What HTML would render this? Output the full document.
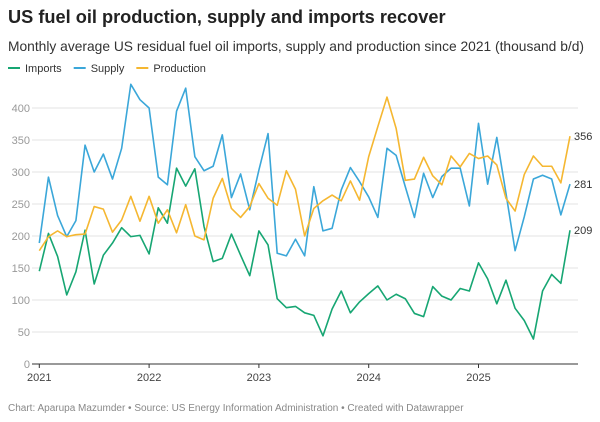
<!DOCTYPE html>
<html><head><meta charset="utf-8"><style>
body{margin:0;width:600px;height:422px;background:#fff;font-family:"Liberation Sans",sans-serif;overflow:hidden;position:relative}
.t{position:absolute;left:8px;top:7px;font-size:18.2px;font-weight:bold;color:#222}
.s{position:absolute;left:8px;top:39px;font-size:13.8px;color:#333;white-space:nowrap}
.f{position:absolute;left:8px;top:403px;font-size:10px;color:#888}
svg{position:absolute;left:0;top:0}
</style></head><body>
<div class="t">US fuel oil production, supply and imports recover</div>
<div class="s">Monthly average US residual fuel oil imports, supply and production since 2021 (thousand b/d)</div>
<svg id="c" width="600" height="422"></svg>
<div class="f">Chart: Aparupa Mazumder • Source: US Energy Information Administration • Created with Datawrapper</div>
<script>
const years=["2021","2022","2023","2024","2025"];
const yTicks=[0,50,100,150,200,250,300,350,400];
const imports=[145,204,168,108,144,209,125,170,189,213,199,201,172,244,220,306,278,305,215,160,165,203,170,138,208,186,102,88,90,80,76,44,86,114,80,97,110,122,100,109,102,79,74,121,106,100,118,114,158,133,94,131,87,68,39,114,140,126,209];
const supply=[189,292,232,199,224,342,300,328,289,337,437,413,400,292,280,395,431,324,302,309,358,260,297,241,303,360,173,169,195,169,277,208,212,272,307,285,261,229,337,326,277,229,298,260,293,306,306,247,376,281,354,267,177,230,289,295,289,233,281];
const production=[177,199,208,199,202,203,246,242,206,225,262,223,262,220,241,205,249,200,194,259,290,243,229,246,282,259,248,302,273,200,243,255,264,255,286,256,324,371,417,368,287,289,323,294,280,325,308,329,321,325,311,259,239,296,325,309,309,283,356];
const series=[["imports","Imports",imports,"#17a673"],["supply","Supply",supply,"#3ba7d9"],["production","Production",production,"#f5b731"]];
const NS="http://www.w3.org/2000/svg",svg=document.getElementById('c');
const x0=39.3,dx=9.15,y0=364,ky=0.64;
const X=i=>x0+dx*i, Y=v=>y0-v*ky;
function mk(t,a,p){const e=document.createElementNS(NS,t);for(const k in a)e.setAttribute(k,a[k]);(p||svg).appendChild(e);return e;}
yTicks.forEach(v=>{
 if(v>0){const g=mk('line',{x1:32,x2:578,y1:Y(v),y2:Y(v),stroke:'#e3e3e3','stroke-width':1});
 
 }
 const t=mk('text',{x:30,y:Y(v)+4,'text-anchor':'end','font-size':11,fill:'#999'});t.textContent=v;
 
 
});
const ax=mk('line',{x1:32,x2:578,y1:y0,y2:y0,stroke:'#333','stroke-width':1});


years.forEach((yr,k)=>{const x=X(k*12);
 mk('line',{x1:x,x2:x,y1:y0,y2:y0+4,stroke:'#333'});
 const t=mk('text',{x:x,y:y0+17,'text-anchor':'middle','font-size':11,fill:'#444'});t.textContent=yr;
 
 
});
let lx=8;
series.forEach(s=>{
 const p=mk('polyline',{points:s[2].map((v,i)=>X(i)+','+Y(v)).join(' '),fill:'none',stroke:s[3],'stroke-width':1.6,'stroke-linejoin':'round'});
 
 
 const n=s[2].length-1,last=s[2][n];
 const l=mk('text',{x:X(n)+4,y:Y(last)+4,'font-size':11,fill:'#333'});l.textContent=last;
 
 
 mk('line',{x1:lx,x2:lx+12,y1:68,y2:68,stroke:s[3],'stroke-width':2});
 const t=mk('text',{x:lx+17,y:72,'font-size':11,fill:'#333'});t.textContent=s[1];
 
 
 lx+=17+t.getComputedTextLength()+12;
});
</script>
</body></html>
